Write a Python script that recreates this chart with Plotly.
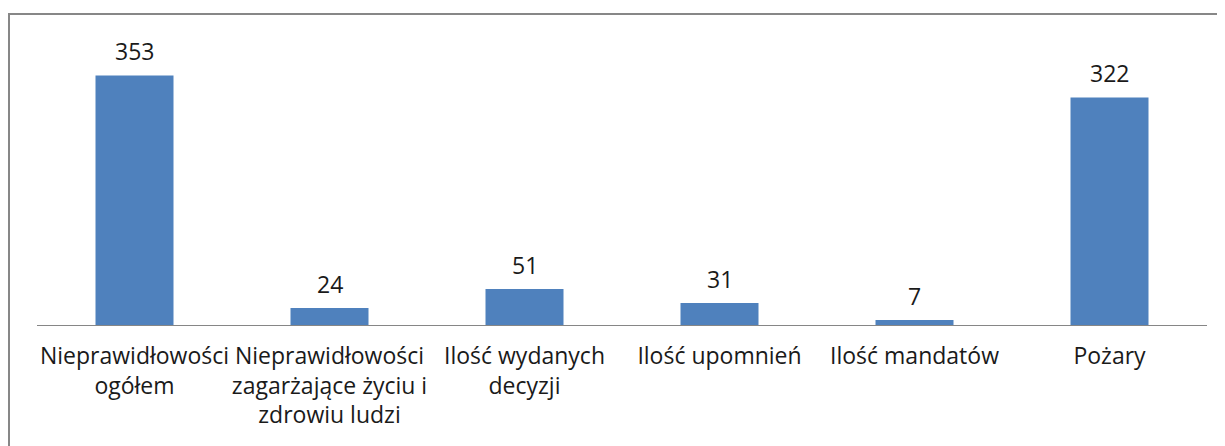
import plotly.graph_objects as go

categories = ["Nieprawidłowości<br>ogółem",
              "Nieprawidłowości<br>zagarżające życiu i<br>zdrowiu ludzi",
              "Ilość wydanych<br>decyzji",
              "Ilość upomnień",
              "Ilość mandatów",
              "Pożary"]
values = [353, 24, 51, 31, 7, 322]

fig = go.Figure()
fig.add_trace(go.Bar(x=categories, y=values, marker_color="#4F81BD",
                     marker_line_width=0, hoverinfo="skip"))

for c, v in zip(categories, values):
    fig.add_annotation(x=c, y=v, text=str(v), showarrow=False,
                       yanchor="bottom", yshift=6,
                       font=dict(family="Open Sans", size=23, color="#1a1a1a"))

# outer chart frame, cut by the window on the right and bottom
fig.add_shape(type="rect", xref="paper", yref="paper",
              x0=-28 / 1170, x1=1.2, y0=-1, y1=1 + 6 / 305,
              line=dict(color="#878787", width=2))

# page body has an 8px margin, so sizes are trimmed to fit the window
fig.update_layout(
    width=1217, height=438,
    margin=dict(l=29, r=18, t=12, b=121),
    paper_bgcolor="white", plot_bgcolor="white",
    bargap=0.6, showlegend=False,
    font=dict(family="Open Sans", size=23, color="#1a1a1a"),
)
fig.update_xaxes(showline=True, linecolor="#868686", linewidth=1,
                 ticks="", showgrid=False, tickfont=dict(size=23),
                 ticklabelstandoff=10)
fig.update_yaxes(range=[0, 431.5], visible=False, showgrid=False)

fig.write_html("out.html")
